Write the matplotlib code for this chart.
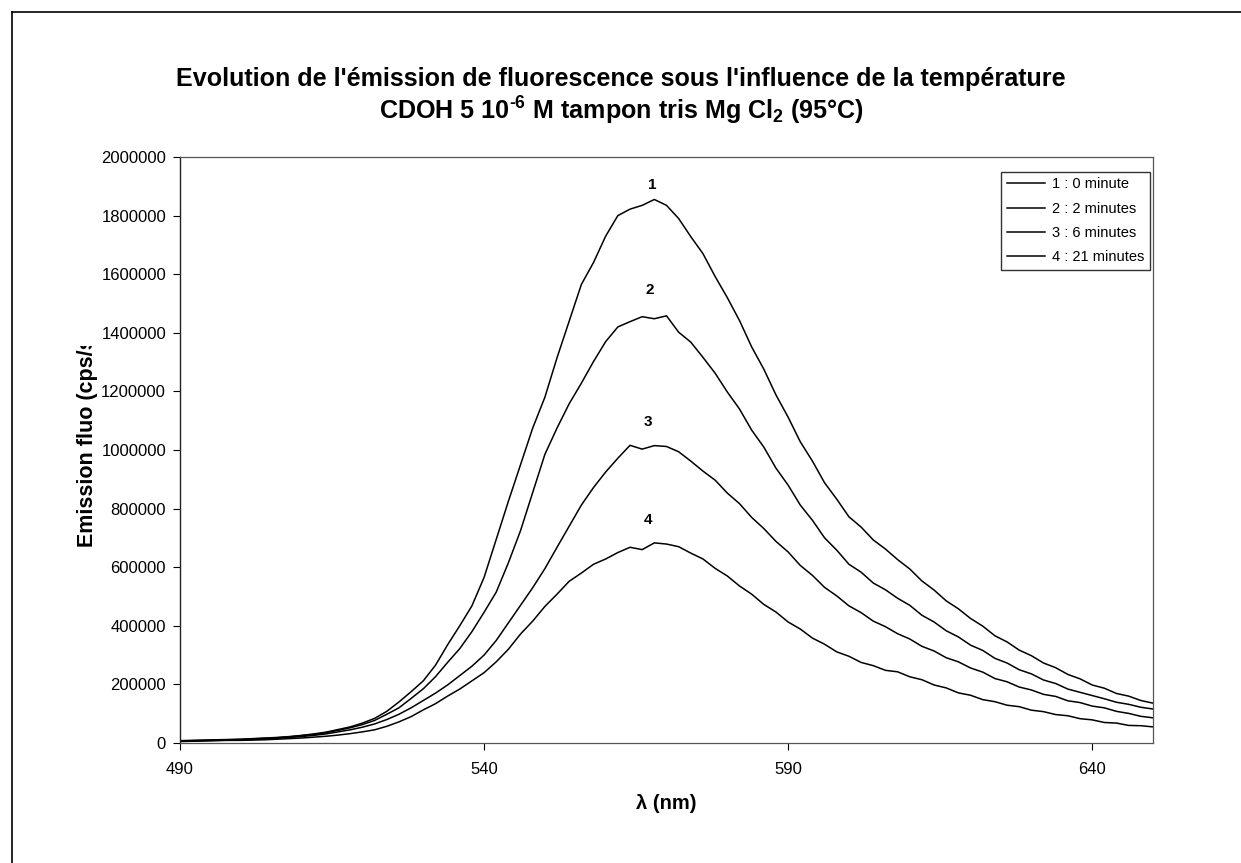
import matplotlib
matplotlib.use("Agg")
import matplotlib.pyplot as plt
from matplotlib.lines import Line2D
from matplotlib.transforms import Bbox, TransformedBbox
import numpy as np

plt.rcParams['font.family'] = ['Liberation Sans', 'DejaVu Sans']
plt.rcParams['mathtext.fontset'] = 'custom'
plt.rcParams['mathtext.rm'] = 'Liberation Sans:bold'
plt.rcParams['mathtext.bf'] = 'Liberation Sans:bold'
plt.rcParams['mathtext.it'] = 'Liberation Sans:bold'

wavelength = list(range(490, 651, 2))

# Emission values (thousands of cps/s)
curve_1 = [8, 9, 10, 11, 12, 13, 15, 17, 19, 22,
           26, 31, 37, 46, 55, 68, 84, 108, 140, 175,
           212, 265, 335, 400, 468, 565, 695, 825, 950, 1075,
           1180, 1315, 1440, 1565, 1640, 1730, 1800, 1822, 1835, 1855,
           1835, 1790, 1728, 1670, 1592, 1520, 1442, 1352, 1276, 1188,
           1112, 1028, 962, 888, 832, 772, 737, 693, 662, 626,
           594, 553, 522, 485, 458, 425, 399, 366, 345, 317,
           298, 273, 257, 234, 219, 198, 187, 169, 160, 145, 136]
curve_2 = [7, 8, 9, 10, 11, 12, 14, 16, 18, 21,
           25, 29, 35, 43, 52, 63, 77, 98, 120, 152,
           185, 226, 275, 322, 380, 446, 515, 615, 725, 855,
           985, 1075, 1158, 1228, 1302, 1370, 1420, 1438, 1455, 1448,
           1458, 1402, 1368, 1316, 1262, 1198, 1140, 1068, 1010, 938,
           880, 812, 760, 700, 658, 610, 583, 546, 523, 494,
           470, 436, 413, 383, 362, 334, 316, 289, 273, 250,
           236, 215, 203, 184, 173, 162, 151, 139, 132, 122, 116]
curve_3 = [6, 7, 8, 9, 10, 11, 12, 14, 16, 19,
           22, 26, 31, 38, 45, 54, 65, 80, 98, 120,
           145, 170, 198, 230, 262, 300, 350, 410, 470, 530,
           595, 668, 740, 812, 872, 925, 972, 1016, 1003, 1015,
           1012, 994, 962, 928, 897, 853, 817, 770, 732, 688,
           652, 606, 572, 531, 502, 468, 445, 416, 397, 373,
           355, 330, 314, 291, 277, 256, 242, 220, 209, 191,
           181, 166, 159, 144, 138, 126, 120, 108, 101, 91, 86]
curve_4 = [5, 6, 7, 8, 9, 9, 10, 11, 13, 15,
           17, 20, 23, 27, 32, 38, 45, 57, 72, 90,
           113, 134, 160, 184, 212, 240, 277, 320, 372, 416,
           466, 508, 552, 580, 610, 628, 650, 668, 660, 683,
           679, 670, 648, 628, 596, 570, 536, 508, 473, 447,
           413, 389, 358, 337, 311, 296, 275, 264, 248, 243,
           226, 216, 198, 188, 171, 163, 148, 141, 129, 124,
           112, 107, 97, 93, 83, 79, 70, 68, 60, 59, 55]

series = [curve_1, curve_2, curve_3, curve_4]
legend_labels = ["1 : 0 minute", "2 : 2 minutes", "3 : 6 minutes", "4 : 21 minutes"]
curve_tags = ["1", "2", "3", "4"]
tag_x = [567.6, 567.3, 567.0, 567.0]
tag_y = [1905000, 1545000, 1095000, 760000]

x_ticks = [490, 540, 590, 640]
y_ticks = list(range(0, 2000001, 200000))

fig = plt.figure(figsize=(12.41, 8.63), dpi=100)
W, H = 1241, 863
ax = fig.add_axes([180 / W, 1 - 743 / H, (1153 - 180) / W, (743 - 157) / H])

for vals in series:
    ax.plot(wavelength, np.array(vals) * 1000, color='black', lw=1.1)

ax.set_xlim(490, 650)
ax.set_ylim(0, 2000000)
ax.set_xticks(x_ticks)
ax.set_yticks(y_ticks)
ax.set_xticklabels([str(t) for t in x_ticks])
ax.set_yticklabels([str(t) for t in y_ticks])
ax.tick_params(axis='both', direction='out', length=5, width=0.8, labelsize=12, colors='black', pad=5)
ax.tick_params(axis='x', pad=9)

for side in ['top', 'right', 'bottom']:
    ax.spines[side].set_linestyle((0, (1, 1)))
    ax.spines[side].set_color('#555555')
    ax.spines[side].set_linewidth(0.9)
ax.spines['left'].set_color('#222222')
ax.spines['left'].set_linewidth(1.0)
ax.spines['left'].set_linestyle((0, (2, 1)))

for t, xx, yy in zip(curve_tags, tag_x, tag_y):
    ax.text(xx, yy, t, ha='center', va='center', fontsize=11, fontweight='bold')

leg = ax.legend(legend_labels, loc='upper right', bbox_to_anchor=(0.997, 0.975),
                fontsize=10.5, frameon=True, fancybox=False, handlelength=2.6,
                handletextpad=0.5, borderpad=0.4, labelspacing=0.7, borderaxespad=0)
leg.get_frame().set_edgecolor('black')
leg.get_frame().set_linewidth(1.0)

fig.text(621 / W, 1 - 79 / H, "Evolution de l'émission de fluorescence sous l'influence de la température",
         ha='center', va='center', fontsize=18.1, fontweight='bold')
fig.text(621 / W, 1 - 111 / H, r"CDOH 5 10$^{\text{-6}}$ M tampon tris Mg Cl$_{\text{2}}$ (95°C)",
         ha='center', va='center', fontsize=18.1, fontweight='bold')

ax.set_xlabel("λ (nm)", fontsize=14.5, fontweight='bold', labelpad=12)

yl = fig.text(88 / W, 1 - 547 / H, "Emission fluo (cps/s)", rotation=90,
              ha='center', va='bottom', fontsize=15.5, fontweight='bold')
yl.set_clip_on(True)
yl.set_clip_box(TransformedBbox(Bbox([[0, 0], [1, 1 - 346 / H]]), fig.transFigure))

fig.add_artist(Line2D([12 / W, 12 / W], [0, 1 - 12 / H], transform=fig.transFigure, color='black', lw=1.2))
fig.add_artist(Line2D([12 / W, 1.0], [1 - 12 / H, 1 - 12 / H], transform=fig.transFigure, color='black', lw=1.2))

fig.savefig("out.png", dpi=100)
